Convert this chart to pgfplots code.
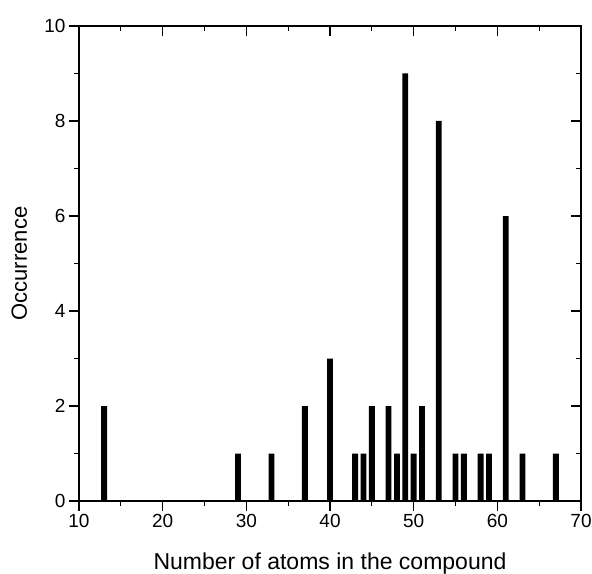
\documentclass[border=0pt]{standalone}
\usepackage{fontspec}
\setmainfont{Liberation Sans}
\usepackage{pgfplots}
\pgfplotsset{compat=1.18}

\begin{document}
\begin{tikzpicture}
  \pgfplotsset{
    boxaxis/.style={
      scale only axis,
      width=502pt,
      height=475pt,
      xmin=10, xmax=70,
      ymin=0, ymax=10,
      xtick={10,20,...,70},
      ytick={0,2,...,10},
      minor x tick num=1,
      minor y tick num=1,
      major tick length=10pt,
      minor tick length=5pt,
      axis line style={line width=1.2pt},
      every tick/.style={black, line width=1.2pt},
      /pgf/number format/assume math mode=true,
      tick label style={font=\fontsize{19}{22}\selectfont},
    }
  }
  \begin{axis}[
    boxaxis,
    name=ax,
    tick align=outside,
    xtick pos=left,
    ytick pos=left,
    ybar,
    bar width=0.7,
    xlabel={Number of atoms in the compound},
    ylabel={Occurrence},
    every axis x label/.style={at={(axis description cs:0.5,-0.1432)}, anchor=base,
      font=\fontsize{23}{27}\selectfont},
    every axis y label/.style={at={(axis description cs:-0.1036,0.5)}, rotate=90, anchor=base,
      font=\fontsize{22}{26}\selectfont},
  ]
    \addplot[fill=black, draw=none] coordinates {
      (13,2) (29,1) (33,1) (37,2) (40,3) (43,1) (44,1) (45,2)
      (47,2) (48,1) (49,9) (50,1) (51,2) (53,8) (55,1) (56,1)
      (58,1) (59,1) (61,6) (63,1) (67,1)
    };
  \end{axis}
  \begin{axis}[
    boxaxis,
    at={(ax.south west)}, anchor=south west,
    tick align=inside,
    xtick pos=right,
    ytick pos=right,
    xticklabels={}, yticklabels={},
  ]
  \end{axis}
  \pgfresetboundingbox
  \path ([shift={(-79pt,-72pt)}]ax.south west) rectangle ([shift={(11pt,26pt)}]ax.north east);
\end{tikzpicture}
\end{document}
